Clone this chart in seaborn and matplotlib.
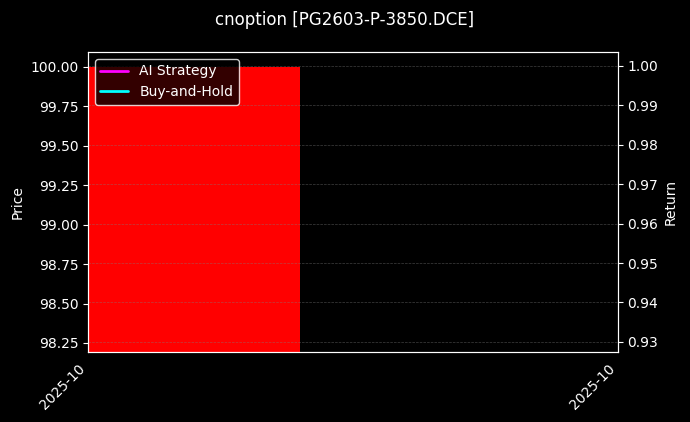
import numpy as np
import pandas as pd
import matplotlib
matplotlib.use("Agg")
import matplotlib.pyplot as plt
import matplotlib.dates as mdates
import seaborn as sns

# data
title = "cnoption [PG2603-P-3850.DCE]"
dates = pd.to_datetime(["2025-10-20"])
open_px = [100.0]
close_px = [98.10]
ai_return = [1.0]
bh_return = [1.0]

sns.set_style("dark")
plt.style.use("dark_background")
plt.rcParams['font.family'] = ['DejaVu Sans']

fig = plt.figure(figsize=(6.9, 4.22), dpi=100)
ax = fig.add_axes([0.1275, 0.166, 0.768, 0.711])
ax2 = ax.twinx()

# candle body
x = mdates.date2num(dates)
w = 0.8
for xi, o, c in zip(x, open_px, close_px):
    col = "red" if c < o else "lime"
    ax.bar(xi, abs(o - c), bottom=min(o, c), width=w, color=col,
           linewidth=0, edgecolor="none", zorder=1)

# return curves (single point -> invisible line, but kept for legend)
sns.lineplot(x=x, y=ai_return, ax=ax2, color="magenta", lw=2, label="AI Strategy", legend=False)
sns.lineplot(x=x, y=bh_return, ax=ax2, color="cyan", lw=2, label="Buy-and-Hold", legend=False)

ax.set_xlim(x[0] - w / 2, x[0] - w / 2 + w / 0.4)
ax.set_ylim(98.193, 100.095)
ax2.set_ylim(0.92746, 1.00355)
ax.set_yticks(np.arange(98.25, 100.01, 0.25))
ax2.set_yticks(np.arange(0.93, 1.0001, 0.01))
ax.yaxis.set_major_formatter(matplotlib.ticker.FormatStrFormatter("%.2f"))
ax2.yaxis.set_major_formatter(matplotlib.ticker.FormatStrFormatter("%.2f"))

ax.set_xticks(ax.get_xlim())
ax.xaxis.set_major_formatter(mdates.DateFormatter("%Y-%m"))
plt.setp(ax.get_xticklabels(), rotation=45, ha="right")

ax2.grid(True, color="gray", linestyle="--", linewidth=0.5, alpha=0.5)
ax.grid(False)

ax.set_ylabel("Price")
ax2.set_ylabel("Return")
ax.set_xlabel("")
fig.suptitle(title, fontsize=12, y=0.975)

for s in list(ax.spines.values()) + list(ax2.spines.values()):
    s.set_color("white")

h, l = ax2.get_legend_handles_labels()
leg = ax2.legend(h, l, loc="upper left", facecolor="black", edgecolor="white", framealpha=0.8)

fig.savefig("out.png", dpi=100, facecolor="black")
